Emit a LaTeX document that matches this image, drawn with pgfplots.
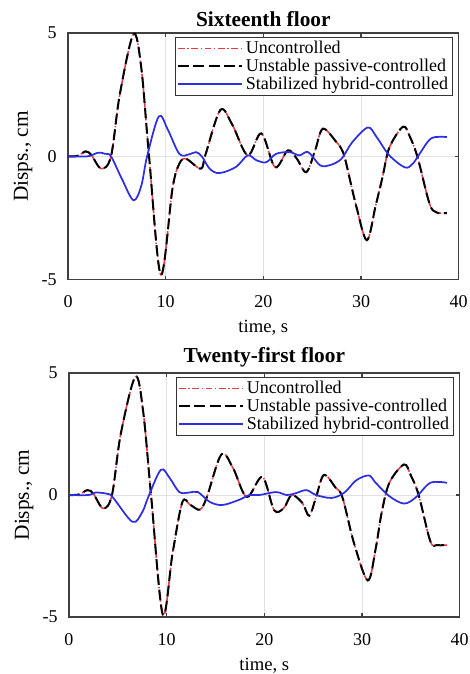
\documentclass[border=0pt]{standalone}
\usepackage{pgfplots}
\pgfplotsset{compat=1.18}
\usepackage{fontspec}
\setmainfont{Liberation Serif}

\definecolor{uncred}{RGB}{228,60,70}
\definecolor{hybblue}{RGB}{45,45,225}
\definecolor{gridgray}{RGB}{225,225,225}

% uncontrolled and passive-controlled response (the two coincide)
\pgfplotstableread{
t     d
0     0
1     0.02
1.8   0.2
2.4   0.05
3.4   -0.5
4.4   0
5.3   2.5
6.7   4.95
7.5   3.6
8.3   0
9.5   -4.8
10.7  -1.3
11.4  -0.3
12.1  -0.1
13.6  -0.5
14.1  0.1
15.6  1.88
16.8  1.3
18.4  0.04
19.8  0.93
21.2  -0.44
22.5  0.24
23.4  -0.08
24.4  -0.64
25.3  0.24
26.1  1.12
27.5  0.57
28.0  0.3
28.4  -0.15
29.5  -2.0
30.6  -3.4
31.5  -2.0
32.2  -0.85
32.9  0.35
34.3  1.2
35.0  0.8
35.8  -0.05
37.0  -1.9
37.7  -2.27
38.8  -2.3
}\unconSixteen

\pgfplotstableread{
t     d
0     0
2     0
3.1   0.15
3.8   0.1
4.4   0
5.5   -0.9
6.7   -1.78
7.5   -1.2
8.1   0
9.3   1.62
10.2  1.1
11.4  0.1
12.4  0.08
13.1  0.17
13.7  0.0
14.5  -0.5
15.5  -0.68
17.2  -0.43
18.4  0.04
19.3  -0.16
20.3  -0.24
21.3  0.1
22.7  0.17
23.7  0.04
24.6  0.17
25.8  -0.36
26.8  -0.36
28.0  -0.1
29.1  0.57
30.7  1.17
31.6  0.78
32.9  0.04
34.5  -0.45
35.3  -0.3
36.0  0.1
37.2  0.73
38.8  0.78
}\hybSixteen

\pgfplotstableread{
t     d
0     0
1     0.02
1.9   0.2
2.5   0.05
3.5   -0.55
4.4   0
5.3   2.5
6.8   4.85
7.6   3.4
8.4   0
9.6   -4.9
10.6  -2.4
11.6  -0.3
12.4  -0.4
13.4  -0.6
14.1  -0.1
15.6  1.66
16.8  1.1
18.2  -0.08
19.8  0.74
21.0  -0.62
22.0  -0.53
22.8  0
23.9  -0.33
24.6  -0.85
25.3  -0.08
26.1  0.82
27.3  0.3
28.0  -0.1
29.2  -2.0
30.6  -3.5
31.4  -2.2
32.0  -0.75
32.8  0.5
34.3  1.25
35.0  0.8
35.8  0
37.0  -1.9
37.7  -2.05
38.7  -2.05
}\unconTwentyOne

\pgfplotstableread{
t     d
0     0
2     0
2.7   0.1
3.9   0.05
4.5   -0.1
6.5   -1.1
7.5   -0.7
8.1   -0.1
9.4   1.03
10.3  0.7
11.3  0.12
12.3  0.1
13.2  0.12
14.4  -0.28
15.7  -0.41
17.4  -0.2
18.5  0
19.5  0
21.2  0.12
22.3  0
23.2  0.07
24.3  0.2
25.3  0
26.9  -0.12
28.2  0.1
29.4  0.6
30.7  0.8
31.4  0.5
32.8  -0.05
34.3  -0.35
35.5  -0.1
37.0  0.5
38.7  0.5
}\hybTwentyOne

\pgfplotsset{
  floorplot/.style={
    width=293pt, height=185pt, scale only axis,
    xmin=0, xmax=40, ymin=-5, ymax=5,
    xtick={0,10,20,30,40}, ytick={-5,0,5},
    tick align=inside, tickpos=both,
    major tick length=3pt,
    grid=major,
    major grid style={gridgray, line width=0.6pt},
    axis line style={black!75, line width=1.2pt},
    every tick/.style={black!75, line width=0.8pt},
    /pgf/number format/assume math mode=true,
    tick label style={font=\fontsize{13.5}{15}\selectfont},
    xticklabel style={yshift=-8.5pt},
    yticklabel style={xshift=-5pt},
    xlabel={time, s},
    ylabel={Disps., cm},
    xlabel style={font=\fontsize{14}{16}\selectfont, yshift=-2.5pt},
    ylabel style={font=\fontsize{16}{18}\selectfont, yshift=0pt},
    title style={font=\bfseries\fontsize{16}{18}\selectfont, yshift=-5pt},
    legend style={
      at={(0.985,0.985)}, anchor=north east,
      draw=black!80, line width=0.9pt,
      font=\fontsize{13.5}{15}\selectfont,
      inner sep=1pt, row sep=-1.5pt,
      legend cell align=left,
    },
    legend image code/.code={
      \draw[#1] plot coordinates {(0pt,0pt) (48pt,0pt)};
    },
  },
  unc/.style={draw=uncred, color=uncred, line width=1.2pt,
    dash pattern=on 5pt off 2pt on 1pt off 2pt, smooth, tension=0.55},
  pas/.style={draw=black, color=black, line width=1.5pt,
    dash pattern=on 8pt off 3.5pt, smooth, tension=0.55},
  hyb/.style={draw=hybblue, color=hybblue, line width=1.3pt,
    solid, smooth, tension=0.55},
}

\begin{document}
\begin{tikzpicture}
\useasboundingbox (-51pt,24.75pt) rectangle (300.75pt,-480.75pt);

\begin{axis}[floorplot, at={(0pt,0pt)}, anchor=north west,
  title={Sixteenth floor}]
  \addplot[unc] table[x=t, y=d] {\unconSixteen};
  \addlegendentry{Uncontrolled}
  \addplot[pas] table[x=t, y=d] {\unconSixteen};
  \addlegendentry{Unstable passive-controlled}
  \addplot[hyb] table[x=t, y=d] {\hybSixteen};
  \addlegendentry{Stabilized hybrid-controlled}
\end{axis}

\begin{axis}[floorplot, at={(0.75pt,-255pt)}, anchor=north west,
  height=183pt, title={Twenty-first floor}]
  \addplot[unc] table[x=t, y=d] {\unconTwentyOne};
  \addlegendentry{Uncontrolled}
  \addplot[pas] table[x=t, y=d] {\unconTwentyOne};
  \addlegendentry{Unstable passive-controlled}
  \addplot[hyb] table[x=t, y=d] {\hybTwentyOne};
  \addlegendentry{Stabilized hybrid-controlled}
\end{axis}
\end{tikzpicture}
\end{document}
